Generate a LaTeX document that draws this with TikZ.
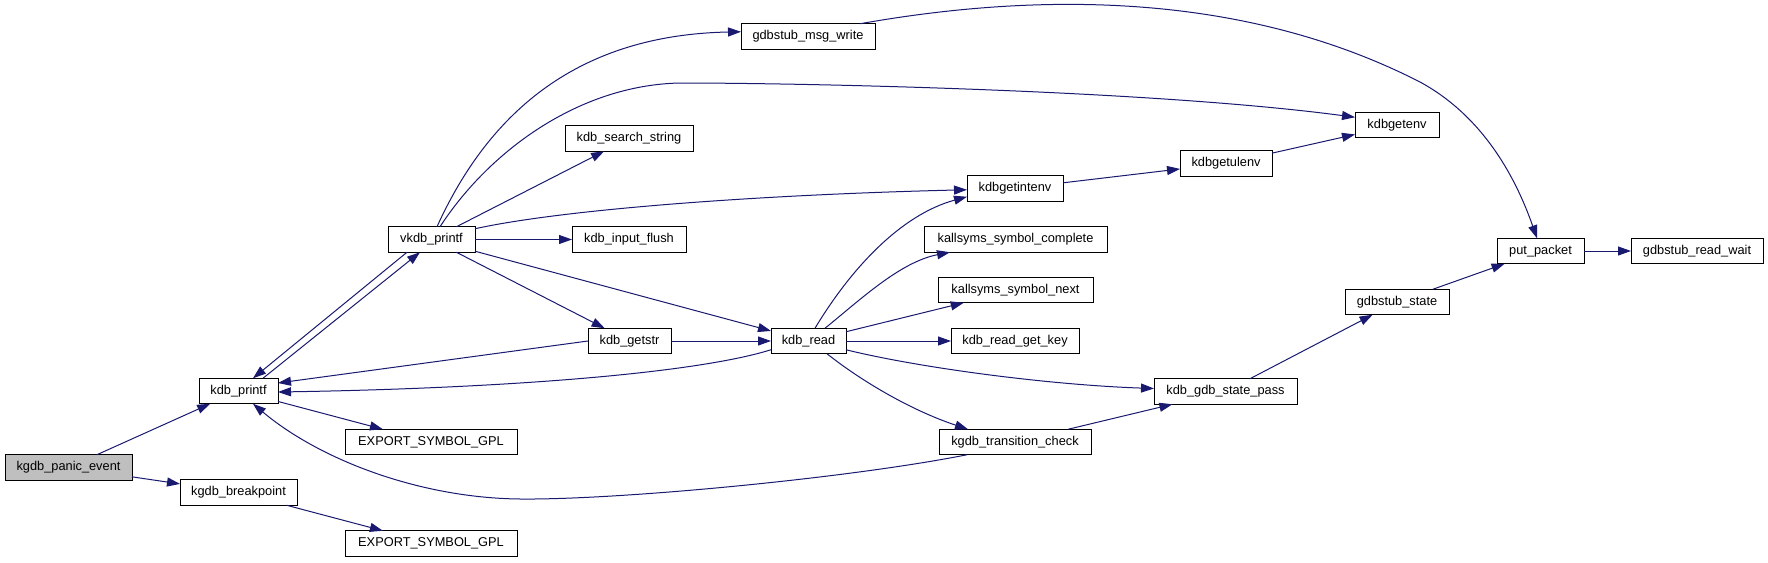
\documentclass[tikz,border=0pt]{standalone}
\usepackage{fontspec}
\setmainfont{Liberation Sans}
\usetikzlibrary{arrows.meta,calc}
\definecolor{edgeblue}{HTML}{191970}
\definecolor{nodegray}{HTML}{BFBFBF}
\begin{document}
\begin{tikzpicture}[x=1pt,y=-1pt,
  fn/.style={draw=black, line width=1pt, fill=white, minimum height=25.5pt,
    inner sep=0pt, outer sep=0pt, font=\fontsize{12.8pt}{15pt}\selectfont},
  e/.style={draw=edgeblue, line width=1pt, -{Triangle[length=13pt,width=9pt]}}]
\useasboundingbox[fill=white] (0,0) rectangle (1768,562);
% nodes
\node[fn, minimum width=127pt, fill=nodegray] (kpe) at (68.5,467.5) {kgdb\_panic\_event};
\node[fn, minimum width=79pt]  (kp)   at (238.5,391)   {kdb\_printf};
\node[fn, minimum width=117pt] (kbp)  at (238.5,492.5) {kgdb\_breakpoint};
\node[fn, minimum width=87pt]  (vk)   at (431.5,239.5) {vkdb\_printf};
\node[fn, minimum width=172pt] (exa)  at (431,442)     {EXPORT\_SYMBOL\_GPL};
\node[fn, minimum width=172pt] (exb)  at (431,543.5)   {EXPORT\_SYMBOL\_GPL};
\node[fn, minimum width=128pt] (kss)  at (629,138.5)   {kdb\_search\_string};
\node[fn, minimum width=114pt] (kif)  at (629,239.5)   {kdb\_input\_flush};
\node[fn, minimum width=83pt]  (kgs)  at (629.5,341)   {kdb\_getstr};
\node[fn, minimum width=134pt] (gmw)  at (808,36.5)    {gdbstub\_msg\_write};
\node[fn, minimum width=75pt]  (kr)   at (808.5,341)   {kdb\_read};
\node[fn, minimum width=96pt]  (kgi)  at (1015,188.5)  {kdbgetintenv};
\node[fn, minimum width=183pt] (ksc)  at (1015.5,239.5){kallsyms\_symbol\_complete};
\node[fn, minimum width=155pt] (ksn)  at (1015.5,290)  {kallsyms\_symbol\_next};
\node[fn, minimum width=128pt] (krgk) at (1015,341)    {kdb\_read\_get\_key};
\node[fn, minimum width=152pt] (ktc)  at (1015,442)    {kgdb\_transition\_check};
\node[fn, minimum width=92pt]  (kgu)  at (1226,163.5)  {kdbgetulenv};
\node[fn, minimum width=143pt] (kgsp) at (1225.5,391.5){kdb\_gdb\_state\_pass};
\node[fn, minimum width=84pt]  (kge)  at (1397,125)    {kdbgetenv};
\node[fn, minimum width=104pt] (gs)   at (1397,302)    {gdbstub\_state};
\node[fn, minimum width=87pt]  (pp)   at (1540.5,251)  {put\_packet};
\node[fn, minimum width=132pt] (grw)  at (1697,251)    {gdbstub\_read\_wait};
% edges
\draw[e] (kpe) -- (kp);
\draw[e] (kpe) -- (kbp);
\draw[e] ($(vk.south west)+(19,0)$) -- ($(kp.north west)+(54,0)$);
\draw[e] ($(kp.north west)+(64,0)$) -- ($(vk.south west)+(32,0)$);
\draw[e] (kp) -- (exa);
\draw[e] (kbp) -- (exb);
\draw[e] ($(vk.north west)+(49,0)$) .. controls (490,110) and (580,35) .. ($(gmw.north west)+(0,8)$);
\draw[e] ($(vk.north west)+(52,0)$) .. controls (490,150) and (580,85) .. (680,83)
   .. controls (800,83) and (1150,90) .. ($(kge.north west)+(0,5)$);
\draw[e] (vk) -- (kss);
\draw[e] ($(vk.north east)+(0,2)$) .. controls (560,210) and (750,195) .. ($(kgi.north west)+(0,14)$);
\draw[e] (vk) -- (kif);
\draw[e] (vk) -- (kgs);
\draw[e] (vk) -- (kr);
\draw[e] (kgs.west) -- ($(kp.east)+(0,-8)$);
\draw[e] (kgs) -- (kr);
\draw[e] ($(kr.south west)+(0,-4)$) .. controls (700,372) and (520,388) .. ($(kp.east)+(0,1)$);
\draw[e] ($(ktc.south west)+(28,0)$) .. controls (850,478) and (620,500) .. (520,499)
   .. controls (420,498) and (320,460) .. ($(kp.south west)+(54,0)$);
\draw[e] ($(kr.north west)+(44,0)$) .. controls (850,270) and (900,215) .. ($(kgi.north west)+(0,21)$);
\draw[e] ($(kr.north west)+(54,0)$) .. controls (860,300) and (900,262) .. ($(ksc.south west)+(26,0)$);
\draw[e] (kr) -- (ksn);
\draw[e] (kr) -- (krgk);
\draw[e] ($(kr.south east)+(0,-4)$) .. controls (920,368) and (1050,385) .. ($(kgsp.west)+(0,-3)$);
\draw[e] ($(kr.south west)+(56,0)$) .. controls (860,380) and (910,410) .. ($(ktc.north west)+(29,0)$);
\draw[e] (ktc) -- (kgsp);
\draw[e] (kgi) -- (kgu);
\draw[e] (kgu) -- (kge);
\draw[e] (kgsp) -- (gs);
\draw[e] (gs) -- (pp);
\draw[e] (pp) -- (grw);
\draw[e] ($(gmw.north east)+(-15,0)$) .. controls (1050,-10) and (1250,-5) .. (1420,82)
   .. controls (1490,120) and (1520,190) .. ($(pp.north west)+(40,0)$);
\end{tikzpicture}
\end{document}
